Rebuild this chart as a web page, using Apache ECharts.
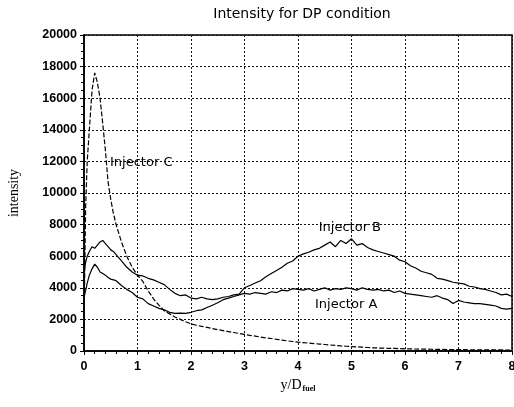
<!DOCTYPE html>
<html>
<head>
<meta charset="utf-8">
<script src="https://cdn.jsdelivr.net/npm/echarts@6/dist/echarts.min.js"></script>
<style>
  html, body { margin: 0; padding: 0; background: #fff; }
  #chart { width: 514px; height: 407px; }
</style>
</head>
<body>
<div id="chart"></div>
<script>
// sample positions along y/D_fuel (finer near the peak)
const xs = [0, 0.03, 0.06, 0.1, 0.15, 0.2, 0.25, 0.3, 0.35, 0.4, 0.45, 0.5, 0.55,
  0.6, 0.7, 0.8, 0.9, 1.0, 1.1, 1.2, 1.3, 1.4, 1.5, 1.6, 1.7, 1.8, 1.9,
  2.0, 2.1, 2.2, 2.3, 2.4, 2.5, 2.6, 2.7, 2.8, 2.9,
  3.0, 3.1, 3.2, 3.3, 3.4, 3.5, 3.6, 3.7, 3.8, 3.9,
  4.0, 4.1, 4.2, 4.3, 4.4, 4.5, 4.6, 4.7, 4.8, 4.9,
  5.0, 5.1, 5.2, 5.3, 5.4, 5.5, 5.6, 5.7, 5.8, 5.9,
  6.0, 6.1, 6.2, 6.3, 6.4, 6.5, 6.6, 6.7, 6.8, 6.9,
  7.0, 7.1, 7.2, 7.3, 7.4, 7.5, 7.6, 7.7, 7.8, 7.9, 8.0];

const injectorA = [3400, 3800, 4300, 4800, 5200, 5500, 5300, 5000, 4900, 4800, 4650, 4550, 4500,
  4450, 4150, 3900, 3700, 3400, 3300, 3000, 2850, 2700, 2600, 2450, 2380, 2400, 2380,
  2450, 2550, 2600, 2750, 2900, 3050, 3250, 3350, 3450, 3550,
  3650, 3600, 3700, 3650, 3600, 3750, 3700, 3850, 3800, 3950,
  3900, 3850, 3950, 3800, 3900, 4000, 3850, 3950, 3900, 4000,
  3950, 3850, 4000, 3900, 3850, 3900, 3800, 3850, 3700, 3800,
  3650, 3600, 3550, 3500, 3450, 3400, 3500, 3350, 3250, 3000,
  3200, 3100, 3050, 3000, 3000, 2950, 2900, 2850, 2700, 2650, 2700];

const injectorB = [5000, 5600, 6000, 6300, 6600, 6500, 6700, 6900, 7000, 6800, 6600, 6400, 6300,
  6100, 5700, 5300, 5000, 4800, 4750, 4600, 4500, 4350, 4200, 3900, 3650, 3500, 3550,
  3350, 3300, 3400, 3300, 3250, 3300, 3400, 3450, 3550, 3600,
  4000, 4150, 4300, 4450, 4700, 4900, 5100, 5300, 5550, 5700,
  6000, 6150, 6250, 6400, 6500, 6700, 6900, 6600, 7000, 6800,
  7100, 6700, 6800, 6550, 6400, 6300, 6200, 6100, 6000, 5750,
  5650, 5400, 5250, 5050, 4950, 4850, 4600, 4550, 4450, 4350,
  4300, 4250, 4100, 4050, 3950, 3900, 3800, 3700, 3550, 3600, 3450];

const injectorC = [1500, 9000, 12000, 14000, 16500, 17600, 17000, 16000, 14400, 12700, 10700, 9600, 8700,
  8000, 6900, 6000, 5300, 4800, 4400, 3800, 3300, 2900, 2550, 2350, 2150, 2000, 1850,
  1720, 1630, 1560, 1490, 1420, 1350, 1290, 1230, 1170, 1110,
  1050, 990, 940, 880, 830, 790, 740, 690, 640, 600,
  560, 530, 500, 470, 440, 410, 380, 350, 320, 300,
  280, 260, 240, 220, 200, 190, 180, 170, 160, 150,
  140, 130, 125, 120, 115, 110, 105, 100, 95, 90,
  85, 82, 80, 78, 75, 72, 70, 68, 66, 64, 60];

// curve labels: [text, x, y]
const curveLabels = [
  ['Injector C', 1.07, 11950],
  ['Injector B', 4.97, 7780],
  ['Injector A', 4.9, 2910]
];

function pairs(ys) {
  return xs.map((x, i) => [x, ys[i]]);
}

const chart = echarts.init(document.getElementById('chart'));

const font = 'Arial, "Liberation Sans", sans-serif';
const wideFont = '"DejaVu Sans", Arial, sans-serif';
const serif = '"Liberation Serif", "DejaVu Serif", serif';

function makeSeries(name, ys, dashed) {
  const lbl = curveLabels.find(l => l[0] === name);
  return {
    name: name,
    type: 'line',
    data: pairs(ys),
    showSymbol: false,
    animation: false,
    lineStyle: { color: '#000', width: 1.2, type: dashed ? [5, 2] : 'solid' },
    markPoint: {
      symbol: 'circle',
      symbolSize: 0,
      label: {
        show: true,
        formatter: name,
        color: '#000',
        fontFamily: wideFont,
        fontSize: 13,
        position: 'inside'
      },
      data: [{ coord: [lbl[1], lbl[2]] }]
    }
  };
}

const option = {
  backgroundColor: '#fff',
  animation: false,
  title: {
    text: 'Intensity for DP condition',
    left: 297,
    top: 2,
    textAlign: 'center',
    textStyle: { fontFamily: wideFont, fontSize: 14, fontWeight: 'normal', color: '#000' }
  },
  grid: {
    left: 84,
    right: 2,
    top: 35,
    bottom: 56,
    outerBoundsMode: 'none',
    containLabel: false,
    show: true,
    borderColor: '#000',
    borderWidth: 1.5
  },
  xAxis: {
    type: 'value',
    min: 0,
    max: 8,
    interval: 1,
    name: '{v|y/D}{s|fuel}',
    nameLocation: 'middle',
    nameGap: 27,
    nameTextStyle: {
      rich: {
        v: { fontFamily: serif, fontSize: 14, color: '#000' },
        s: { fontFamily: serif, fontSize: 8, fontWeight: 'bold', color: '#000', verticalAlign: 'bottom', padding: [7, 0, 0, 1] }
      }
    },
    axisLine: { lineStyle: { color: '#000', width: 1.5 } },
    axisTick: { length: 4, lineStyle: { color: '#000' } },
    minorTick: { show: true, splitNumber: 5, length: 3, lineStyle: { color: '#000' } },
    axisLabel: { color: '#000', fontFamily: font, fontSize: 12.5, fontWeight: 'bold', margin: 9 },
    splitLine: { show: true, lineStyle: { color: '#111', type: [2, 2], width: 1 } }
  },
  yAxis: {
    type: 'value',
    min: 0,
    max: 20000,
    interval: 2000,
    name: 'intensity',
    nameLocation: 'middle',
    nameGap: 63,
    nameTextStyle: { fontFamily: serif, fontSize: 14, color: '#000' },
    axisLine: { lineStyle: { color: '#000', width: 1.5 } },
    axisTick: { length: 4, lineStyle: { color: '#000' } },
    minorTick: { show: true, splitNumber: 4, length: 3, lineStyle: { color: '#000' } },
    axisLabel: {
      color: '#000', fontFamily: font, fontSize: 12.5, fontWeight: 'bold', margin: 7,
      formatter: v => String(v)
    },
    splitLine: { show: true, lineStyle: { color: '#111', type: [2, 2], width: 1 } }
  },
  series: [
    makeSeries('Injector A', injectorA, false),
    makeSeries('Injector B', injectorB, false),
    makeSeries('Injector C', injectorC, true)
  ]
};

chart.setOption(option);
</script>
</body>
</html>
